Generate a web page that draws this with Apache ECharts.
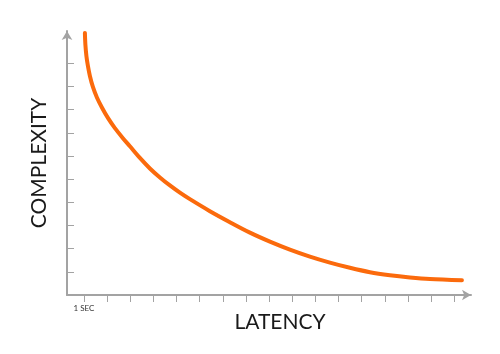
<!DOCTYPE html>
<html>
<head>
<meta charset="utf-8">
<script src="https://cdn.jsdelivr.net/npm/echarts@6/dist/echarts.min.js"></script>
<style>
  html, body { margin: 0; padding: 0; background: #fff; }
  #chart { width: 500px; height: 354px; }
</style>
</head>
<body>
<div id="chart"></div>
<script>
// latency (seconds) vs complexity
const latency = [1.043, 1.065, 1.108, 1.173, 1.259, 1.389, 1.562, 1.778, 2.037, 2.339, 2.685, 2.987, 3.419, 3.851, 4.283, 4.715, 5.147, 5.579, 6.443, 7.307, 8.171, 9.035, 9.898, 10.762, 11.626, 12.49, 13.354, 14.218, 15.082, 15.946, 17.328];
const complexity = [11.317, 10.799, 10.324, 9.892, 9.46, 8.985, 8.531, 8.099, 7.646, 7.205, 6.773, 6.423, 5.918, 5.464, 5.076, 4.73, 4.419, 4.138, 3.62, 3.145, 2.695, 2.307, 1.961, 1.659, 1.4, 1.175, 0.985, 0.855, 0.76, 0.691, 0.635];

const xTicks = [1, 2, 3, 4, 5, 6, 7, 8, 9, 10, 11, 12, 13, 14, 15, 16, 17];
const yTicks = [1, 2, 3, 4, 5, 6, 7, 8, 9, 10];
const xLabelValues = [1];
const xLabelText = ["1 SEC"];

const chart = echarts.init(document.getElementById("chart"));
const axisGray = "#a3a3a3";

chart.setOption({
  animation: false,
  grid: { left: 67, right: 29, top: 31, bottom: 59 },
  xAxis: {
    type: "value",
    min: 0.27,
    max: 17.72,
    name: "LATENCY",
    nameLocation: "middle",
    nameGap: 17,
    nameMoveOverlap: false,
    nameTextStyle: {
      fontFamily: "Lato",
      fontSize: 21,
      color: "#1a1a1a",
      padding: [0, 0, 0, 22],
    },
    splitLine: { show: false },
    axisLine: {
      lineStyle: { color: axisGray, width: 2 },
      symbol: ["none", "arrow"],
      symbolSize: [8, 9],
    },
    axisTick: {
      customValues: xTicks,
      length: 7,
      lineStyle: { color: axisGray, width: 1 },
    },
    axisLabel: {
      customValues: xLabelValues,
      formatter: (v) => xLabelText[xLabelValues.indexOf(v)] || "",
      fontFamily: "Lato",
      fontSize: 8,
      color: "#333",
      margin: 9,
    },
  },
  yAxis: {
    type: "value",
    min: 0,
    max: 11.4,
    name: "COMPLEXITY",
    nameLocation: "middle",
    nameGap: 17,
    nameRotate: 90,
    nameTextStyle: {
      fontFamily: "Lato",
      fontSize: 21,
      color: "#1a1a1a",
    },
    splitLine: { show: false },
    axisLine: {
      show: true,
      lineStyle: { color: axisGray, width: 2 },
      symbol: ["none", "arrow"],
      symbolSize: [8, 9],
    },
    axisTick: {
      show: true,
      inside: true,
      customValues: yTicks,
      length: 7,
      lineStyle: { color: axisGray, width: 1 },
    },
    axisLabel: { show: false },
  },
  series: [
    {
      type: "line",
      data: latency.map((x, i) => [x, complexity[i]]),
      smooth: 0.3,
      showSymbol: false,
      lineStyle: { color: "#fb6a0c", width: 4, cap: "round" },
    },
  ],
});
</script>
</body>
</html>
